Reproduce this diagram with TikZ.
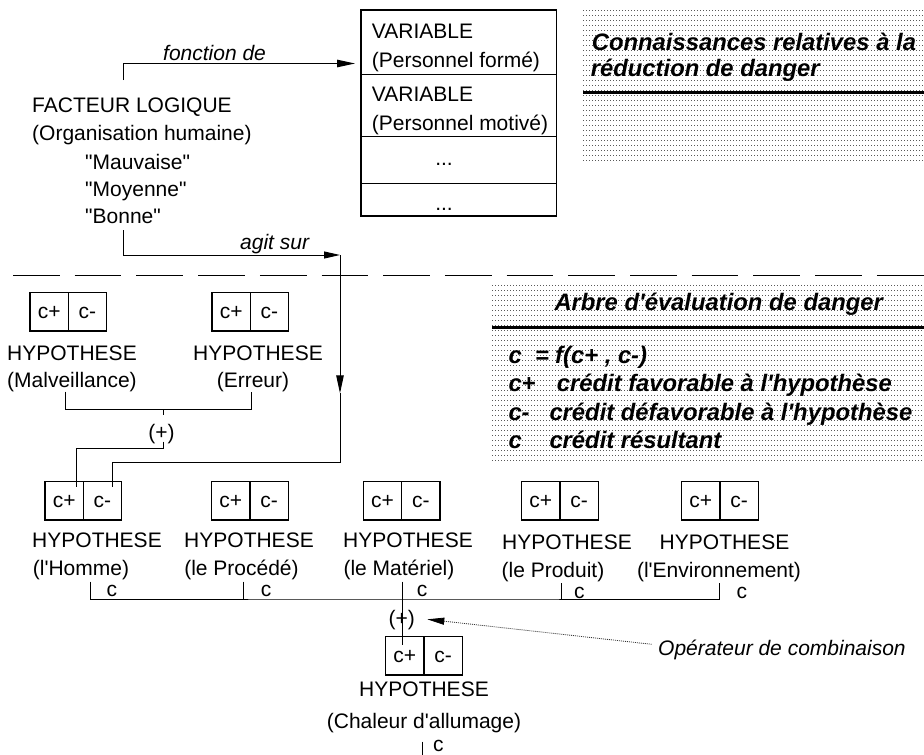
\documentclass[tikz,border=0pt]{standalone}
\usepackage{fontspec}
\setmainfont{Liberation Sans}[Ligatures=TeXOff]
\usetikzlibrary{arrows.meta}
\newcommand\normfont{\fontsize{21}{25}\selectfont}
\newcommand\boldfont{\fontsize{23.8}{28}\selectfont\bfseries\itshape}
\newcommand\itfont{\fontsize{21}{25}\selectfont\itshape}
\newcommand\hypcells[3]{%
  \node[cell, anchor=north west] (#1p) at (#2,#3) {c+};
  \node[cell, anchor=north west] (#1m) at (#1p.north east) {c-};}
\begin{document}
\begin{tikzpicture}[x=1pt,y=-1pt,
  lbl/.style={inner sep=0pt, anchor=base west, font=\normfont},
  clbl/.style={inner sep=0pt, anchor=base, font=\normfont},
  ilbl/.style={inner sep=0pt, anchor=base west, font=\itfont},
  blbl/.style={inner sep=0pt, anchor=base west, font=\boldfont},
  cell/.style={draw, line width=1.2pt, minimum width=38.3pt, minimum height=38.3pt,
    inner sep=0pt, outer sep=0pt, text height=12.5pt, text depth=0pt, font=\normfont},
  wire/.style={line width=1pt},
  tip/.style={-{Triangle[length=18pt,width=7.5pt]}},
  dotrule/.style={black!65, line width=0.6pt, dash pattern=on 0.8pt off 2.2pt},
  thickrule/.style={line width=3pt},
  sep/.style={line width=1pt, dash pattern=on 46.7pt off 15pt}]
\useasboundingbox (0,0) rectangle (924,755);

% ---- dotted knowledge panels ----
\foreach \i in {0,...,30} \draw[dotrule] (583,{10+5*\i}) -- (924,{10+5*\i});
\draw[thickrule] (583,92.7) -- (924,92.7);
\node[blbl] (kt1) at (591.7,50) {Connaissances relatives à la};
\node[blbl] (kt2) at (590.7,76.7) {réduction de danger};

\foreach \i in {0,...,35} \draw[dotrule] (492,{285+5*\i}) -- (924,{285+5*\i});
\draw[thickrule] (492,327) -- (924,327);
\node[blbl] (at1) at (554.3,310) {Arbre d'évaluation de danger};
\node[blbl] (l1a) at (508.3,363) {c};
\node[blbl] (l1b) at (535,363) {=};
\node[blbl] (l1c) at (555,363) {f(c+ , c-)};
\node[blbl] (l2a) at (508.3,391.7) {c+};
\node[blbl] (l2b) at (556.7,391.7) {crédit favorable à l'hypothèse};
\node[blbl] (l3a) at (508.3,420.7) {c-};
\node[blbl] (l3b) at (549.3,420.7) {crédit défavorable à l'hypothèse};
\node[blbl] (l4a) at (508.3,448.3) {c};
\node[blbl] (l4b) at (549.3,448.3) {crédit résultant};

% ---- separator ----
\draw[sep] (13,275) -- (924,275);

% ---- facteur logique ----
\node[lbl] (fact) at (32,112.5) {FACTEUR LOGIQUE};
\node[lbl] (org) at (32,140.5) {(Organisation humaine)};
\node[lbl] (v1) at (85,169) {"Mauvaise"};
\node[lbl] (v2) at (85,196.5) {"Moyenne"};
\node[lbl] (v3) at (85,223) {"Bonne"};

% ---- variable box ----
\node[draw, line width=1.2pt, anchor=north west, minimum width=195.7pt,
  minimum height=206pt, inner sep=0pt, outer sep=0pt] (varbox) at (361,10) {};
\draw[line width=1pt] (361,74) -- (556.7,74);
\draw[line width=1pt] (361,136.7) -- (556.7,136.7);
\draw[line width=1pt] (361,183.3) -- (556.7,183.3);
\node[lbl] (var1) at (371.7,38.3) {VARIABLE};
\node[lbl] (var1b) at (371.7,67) {(Personnel formé)};
\node[lbl] (var2) at (371.7,101.5) {VARIABLE};
\node[lbl] (var2b) at (371.7,130) {(Personnel motivé)};
\node[clbl] (dots1) at (444,165) {...};
\node[clbl] (dots2) at (444,210) {...};

% ---- fonction de / agit sur ----
\coordinate (f0) at (123,80);
\coordinate (ftip) at (355,63.5);
\draw[wire,tip] (f0) |- (ftip);
\node[ilbl] (fde) at (163,60) {fonction de};

\coordinate (a0) at (123,230);
\coordinate (a1) at (340,255);
\coordinate (a2) at (340,393.3);
\coordinate (a3) at (340,462.7);
\coordinate (a4) at (112.3,487);
\draw[wire,-{Triangle[length=16pt,width=7pt]}] (a0) |- (a1);
\draw[wire,tip] (a1) -- (a2);
\draw[wire] (a2) -- (a3) -| (a4);
\node[ilbl] (agit) at (240,249) {agit sur};

% ---- row 1 hypotheses ----
\hypcells{mal}{30}{292.7}
\hypcells{err}{212}{292.7}
\node[clbl] (malh) at (72,360) {HYPOTHESE};
\node[clbl] (malt) at (72,387) {(Malveillance)};
\node[clbl] (errh) at (258,360) {HYPOTHESE};
\node[clbl] (errt) at (253,387) {(Erreur)};
\coordinate (m0) at (65.7,391.7);
\coordinate (m1) at (251,391.7);
\coordinate (mj) at (163,409.3);
\coordinate (mk) at (163,415);
\draw[wire] (m0) |- (mj) -| (m1);
\draw[wire] (mj) -- (mk);
\node[clbl] (plus1) at (161.5,439) {(+)};
\coordinate (p1a) at (163,441.7);
\coordinate (p1b) at (76,487);
\draw[wire] (p1a) |- ++(0,6.6) -| (p1b);

% ---- row 2 hypotheses ----
\hypcells{hom}{45}{481.7}
\hypcells{pro}{211.7}{481.7}
\hypcells{mat}{363.3}{481.7}
\hypcells{prd}{521.7}{481.7}
\hypcells{env}{681.7}{481.7}
\node[clbl] (homh) at (97,547) {HYPOTHESE};
\node[clbl] (homt) at (81,575.6) {(l'Homme)};
\node[clbl] (proh) at (249,547) {HYPOTHESE};
\node[clbl] (prot) at (241.5,575.6) {(le Procédé)};
\node[clbl] (math) at (408,547) {HYPOTHESE};
\node[clbl] (matt) at (399,575.6) {(le Matériel)};
\node[clbl] (prdh) at (567,549) {HYPOTHESE};
\node[clbl] (prdt) at (553,577) {(le Produit)};
\node[clbl] (envh) at (724.5,549) {HYPOTHESE};
\node[clbl] (envt) at (719,577) {(l'Environnement)};

\coordinate (r1) at (90.7,581.7);
\coordinate (r2) at (243.3,581.7);
\coordinate (r3) at (402.7,581.7);
\coordinate (r4) at (561.5,583);
\coordinate (r5) at (719.5,583);
\coordinate (rj) at (402.7,599);
\coordinate (rb) at (402.7,644.5);
\draw[wire] (r1) |- (rj) -| (r5);
\draw[wire] (r2) -- (r2 |- rj);
\draw[wire] (r3) -- (rj);
\draw[wire] (r4) -- (r4 |- rj);
\draw[wire] (rj) -- (rb);
\node[lbl] (c1) at (106.5,596.5) {c};
\node[lbl] (c2) at (260.7,596.5) {c};
\node[lbl] (c3) at (416.7,596.5) {c};
\node[lbl] (c4) at (574,598.5) {c};
\node[lbl] (c5) at (736.5,598.5) {c};
\node[clbl] (plus2) at (401.7,625.6) {(+)};

% ---- final hypothesis ----
\hypcells{cha}{385.7}{636.7}
\node[clbl] (chah) at (424,696.7) {HYPOTHESE};
\node[clbl] (chat) at (424,728.6) {(Chaleur d'allumage)};
\coordinate (b0) at (422.7,741.7);
\coordinate (b1) at (422.7,755);
\draw[wire] (b0) -- (b1);
\node[lbl] (cb) at (433,751) {c};

% ---- operator annotation ----
\node[ilbl] (oper) at (658,655) {Opérateur de combinaison};
\coordinate (o0) at (651.7,644.3);
\coordinate (o1) at (427.3,619.3);
\draw[line width=0.8pt, black!80, dash pattern=on 1pt off 1pt,
  -{Triangle[length=17pt,width=7pt,black]}] (o0) -- (o1);
\end{tikzpicture}
\end{document}
